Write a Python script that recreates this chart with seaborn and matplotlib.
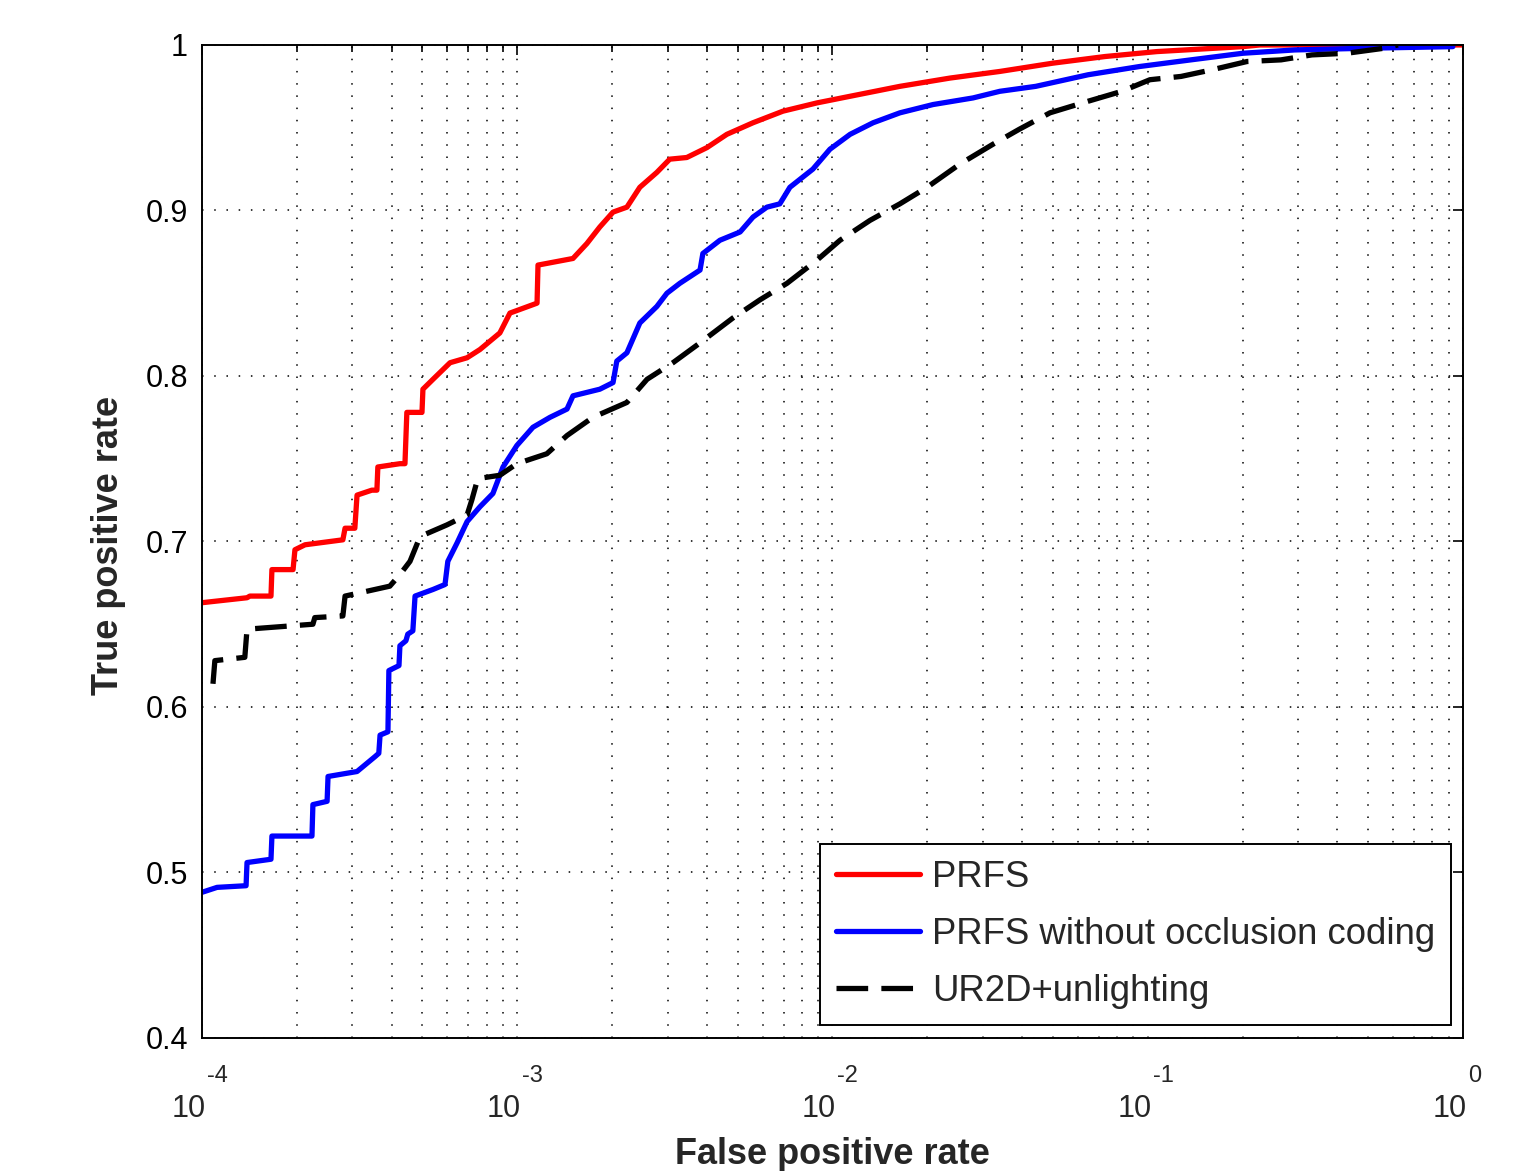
import numpy as np
import matplotlib
matplotlib.use('Agg')
import matplotlib.pyplot as plt
import seaborn as sns

## ROC curves, x kept as log10(false positive rate)
## corner points are listed where the curve makes a clear step
prfs_logfpr = [-4.000, -3.857, -3.848, -3.781, -3.778, -3.711, -3.705, -3.673, -3.553, -3.546,
               -3.515, -3.508, -3.461, -3.445, -3.442, -3.372, -3.356, -3.350, -3.302, -3.299,
               -3.267, -3.213, -3.159, -3.118, -3.055, -3.023, -2.937, -2.934, -2.823, -2.779,
               -2.738, -2.696, -2.652, -2.611, -2.557, -2.516, -2.462, -2.398, -2.335, -2.252,
               -2.157, -2.049, -1.944, -1.786, -1.627, -1.469, -1.301, -1.136, -0.971, -0.698,
               -0.644, 0.0]
prfs_tpr = [0.663, 0.666, 0.667, 0.667, 0.683, 0.683, 0.695, 0.698, 0.701, 0.708,
            0.708, 0.728, 0.731, 0.731, 0.745, 0.747, 0.747, 0.778, 0.778, 0.792,
            0.798, 0.808, 0.811, 0.816, 0.826, 0.838, 0.844, 0.867, 0.871, 0.880,
            0.890, 0.899, 0.902, 0.914, 0.923, 0.931, 0.932, 0.938, 0.946, 0.953,
            0.960, 0.965, 0.969, 0.975, 0.980, 0.984, 0.989, 0.993, 0.996, 0.999,
            1.000, 1.000]

noocc_logfpr = [-4.000, -3.952, -3.860, -3.857, -3.781, -3.778, -3.651, -3.648, -3.603, -3.600,
                -3.508, -3.451, -3.439, -3.435, -3.410, -3.407, -3.375, -3.372, -3.353, -3.347,
                -3.331, -3.324, -3.267, -3.229, -3.220, -3.191, -3.159, -3.118, -3.077, -3.045,
                -3.001, -2.950, -2.896, -2.842, -2.823, -2.738, -2.696, -2.684, -2.652, -2.611,
                -2.557, -2.525, -2.484, -2.420, -2.411, -2.357, -2.293, -2.252, -2.208, -2.167,
                -2.135, -2.062, -2.008, -1.944, -1.871, -1.786, -1.681, -1.554, -1.469, -1.355,
                -1.189, -1.025, -0.863, -0.698, -0.533, -0.314, -0.032]
noocc_tpr = [0.488, 0.491, 0.492, 0.506, 0.508, 0.522, 0.522, 0.541, 0.543, 0.558,
             0.561, 0.570, 0.572, 0.583, 0.585, 0.622, 0.625, 0.637, 0.640, 0.644,
             0.646, 0.667, 0.671, 0.674, 0.688, 0.699, 0.712, 0.721, 0.729, 0.745,
             0.758, 0.769, 0.775, 0.780, 0.788, 0.792, 0.796, 0.809, 0.814, 0.832,
             0.842, 0.850, 0.856, 0.864, 0.874, 0.882, 0.887, 0.896, 0.902, 0.904,
             0.914, 0.925, 0.937, 0.946, 0.953, 0.959, 0.964, 0.968, 0.972, 0.975,
             0.982, 0.987, 0.991, 0.995, 0.997, 0.998, 0.999]

ur2d_logfpr = [-3.965, -3.959, -3.864, -3.857, -3.648, -3.642, -3.553, -3.546, -3.404, -3.372,
               -3.340, -3.308, -3.223, -3.159, -3.144, -3.125, -3.055, -3.001, -2.906, -2.842,
               -2.760, -2.652, -2.588, -2.506, -2.420, -2.316, -2.230, -2.144, -2.049, -1.976,
               -1.881, -1.786, -1.700, -1.596, -1.491, -1.408, -1.310, -1.189, -1.082, -0.993,
               -0.894, -0.796, -0.685, -0.577, -0.479, -0.368, -0.251, -0.206]
ur2d_tpr = [0.614, 0.628, 0.630, 0.647, 0.650, 0.654, 0.655, 0.667, 0.673, 0.680,
            0.688, 0.703, 0.710, 0.716, 0.725, 0.738, 0.740, 0.747, 0.753, 0.764,
            0.775, 0.784, 0.798, 0.808, 0.820, 0.835, 0.846, 0.856, 0.870, 0.882,
            0.894, 0.904, 0.914, 0.928, 0.940, 0.949, 0.959, 0.966, 0.972, 0.979,
            0.981, 0.985, 0.990, 0.991, 0.994, 0.995, 0.998, 1.000]

series_names = ['PRFS', 'PRFS without occlusion coding', 'UR2D+unlighting']
x_exponents = [-4, -3, -2, -1, 0]
y_ticks = [0.4, 0.5, 0.6, 0.7, 0.8, 0.9, 1.0]
y_ticklabels = ['0.4', '0.5', '0.6', '0.7', '0.8', '0.9', '1']

sns.set_style('white')
plt.rcParams['font.family'] = ['Liberation Sans', 'DejaVu Sans']

fig = plt.figure(figsize=(15.38, 11.71), dpi=100)
ax = fig.add_axes([0.1313, 0.1136, 0.8199, 0.848])

curves = [(prfs_logfpr, prfs_tpr), (noocc_logfpr, noocc_tpr), (ur2d_logfpr, ur2d_tpr)]
looks = [('red', '-'), ('blue', '-'), ('black', (0, (6, 2.5)))]
for name, (lx, ty), (col, ls) in zip(series_names, curves, looks):
    sns.lineplot(x=10.0 ** np.array(lx), y=ty, ax=ax, color=col, linestyle=ls,
                 linewidth=3.8, estimator=None, sort=False, label=name)

ax.set_xscale('log')
ax.set_xlim(1e-4, 1)
ax.set_ylim(0.4, 1)
ax.set_xticks([10.0 ** e for e in x_exponents])
ax.set_yticks(y_ticks)
ax.set_yticklabels(y_ticklabels)

# dotted grid, minor too on the log axis
dots = (0, (1, 7))
ax.grid(True, which='major', axis='both', color='black', linestyle=dots, linewidth=1.1)
ax.grid(True, which='minor', axis='x', color='black', linestyle=dots, linewidth=1.1)
ax.set_axisbelow(True)

ax.tick_params(which='both', direction='in', top=True, right=True, labelbottom=False,
               color='black', width=1.2)
ax.tick_params(which='major', length=7)
ax.tick_params(which='minor', length=5)
ax.tick_params(axis='y', labelsize=22, pad=10, labelcolor='black')
for sp in ax.spines.values():
    sp.set_color('black')
    sp.set_linewidth(1.4)

# old matlab style tick labels: exponent sitting above the 10
for e in x_exponents:
    ax.annotate('10', xy=(10.0 ** e, 0), xycoords=('data', 'axes fraction'),
                xytext=(-9.7, -57), textcoords='offset points', ha='center',
                va='baseline', fontsize=22, annotation_clip=False)
    ax.annotate(str(e), xy=(10.0 ** e, 0), xycoords=('data', 'axes fraction'),
                xytext=(3.6, -31.7), textcoords='offset points', ha='left',
                va='baseline', fontsize=17, annotation_clip=False)

ax.set_xlabel('False positive rate', fontsize=26, fontweight='bold')
ax.xaxis.set_label_coords(0.5, -0.100)
ax.set_ylabel('True positive rate', fontsize=26, fontweight='bold')
ax.yaxis.set_label_coords(-0.060, 0.496)

leg = ax.legend(loc='lower right', bbox_to_anchor=(0.9905, 0.0131), fontsize=26.3,
                frameon=True, fancybox=False, framealpha=1, edgecolor='black',
                handlelength=2.3, handletextpad=0.33, labelspacing=0.6,
                borderpad=0.44, borderaxespad=0)
leg.get_frame().set_linewidth(1.4)

fig.savefig('out.png', dpi=100)
